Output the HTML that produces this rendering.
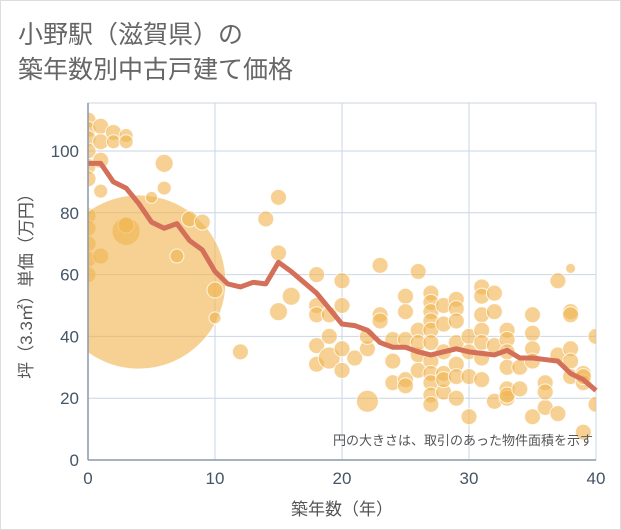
<!DOCTYPE html>
<html><head><meta charset="utf-8"><style>
body{margin:0;background:#fff}
svg{display:block;font-family:"Liberation Sans","Noto Sans CJK JP",sans-serif}
</style></head><body>
<svg id="c" width="621" height="530">
<rect x="0.5" y="0.5" width="620" height="529" fill="#fff" stroke="#ddd"/>
<text x="18" y="43" font-size="25" fill="#666">小野駅（滋賀県）の</text>
<text x="18" y="78" font-size="25" fill="#666">築年数別中古戸建て価格</text>
<g id="grid"></g>
<g id="bubbles"></g>
<g id="line"></g>
<g id="axes"></g>
<text x="593" y="445" font-size="13" fill="#555" text-anchor="end">円の大きさは、取引のあった物件面積を示す</text>
<text x="342" y="515" font-size="17" fill="#555" text-anchor="middle">築年数（年）</text>
<text transform="translate(32,282) rotate(-90)" font-size="17" fill="#555" text-anchor="middle">坪（3.3㎡）単価（万円）</text>
</svg>
<script>
const xTicks=[0,10,20,30,40];
const yTicks=[0,20,40,60,80,100];
const lineX=[0,1,2,3,4,5,6,7,8,9,10,11,12,13,14,15,16,17,18,19,20,21,22,23,24,25,26,27,28,29,30,31,32,33,34,35,36,37,38,39,40];
const lineY=[96,96,90,88,83,77,75,76.5,71,68,61,57,56,57.5,57,64,61,57.5,54,49,44,43.5,42,38,36.5,36.5,35,34,35,36,35,34.5,34,35.5,33,33,32.5,32,28,26,22.5];
const bubX=[0,0,0,0,0,0,0,0,0,0,0,1,1,1,1,1,2,2,3,3,3,3,4,5,6,6,7,8,9,10,10,12,14,15,15,15,16,18,18,18,18,18,19,19,19,20,20,20,20,21,22,22,22,23,23,23,24,24,24,25,25,25,25,25,26,26,26,26,26,27,27,27,27,27,27,27,27,27,27,27,28,28,28,28,28,28,29,29,29,29,29,29,29,30,30,30,30,31,31,31,31,31,31,31,32,32,32,32,33,33,33,33,33,33,33,34,34,35,35,35,35,35,36,36,36,37,37,37,38,38,38,38,38,38,39,39,39,39,40,40];
const bubY=[110,107,104,100,95,91,79,75,70,65,60,108,103,97,87,66,106,103,105,103,74,76,57.6,85,96,88,66,78,77,55,46,35,78,85,67,48,53,60,50,47,37,31,40,33,47,58,50,29,36,33,19,36,40,63,47,45,39,25,32,53,48,39,26,24,61,42,34,29,38,54,51,48,45,42,38,32,28,25,21,18,50,44,35,28,22,26,52,49,45,38,31,27,20,40,35,27,14,56,53,47,42,38,33,26,54,48,37,19,42,39,35,30,23,20,21,30,23,47,41,36,32,14,25,17,22,58,34,15,62,48,47,36,32,27,28,25,27,9,40,18];
const bubR=[
8,8,8,8,8,8,8,8,8,8,8,
8,8,8,7,8,
8,7,
7,7,14,8,
87,
6,
9,7,
7,8,8,
8,6,
8,8,
8,8,9,
9,
8,8,8,8,8,
8,11,8,
8,8,8,8,
8,
11,8,8,
8,8,8,
8,8,8,
8,8,8,8,8,
8,8,8,8,8,
8,8,8,8,8,8,8,8,8,8,8,
8,8,8,8,8,8,
8,8,8,8,8,8,8,
8,8,8,8,
8,8,8,8,8,8,8,
8,8,8,8,
8,8,8,8,8,8,8,
8,8,
8,8,8,8,8,
8,8,8,
8,8,8,
5,8,8,8,8,8,
8,8,8,8,
8,8];
const X0=88,X1=596,Y0=460,Y1=103;
const sx=v=>X0+(X1-X0)*v/40;
const sy=v=>Y0-(Y0-151)*v/100;
const NS="http://www.w3.org/2000/svg";
function mk(t,a,p){const e=document.createElementNS(NS,t);for(const k in a)e.setAttribute(k,a[k]);p.appendChild(e);return e;}
const grid=document.getElementById('grid'),axes=document.getElementById('axes');
const bg=mk('rect',{x:X0,y:Y1,width:X1-X0,height:Y0-Y1,fill:'#fff',stroke:'#ccd5df'},grid);


xTicks.forEach(v=>{
 const l=mk('line',{x1:sx(v),x2:sx(v),y1:Y1,y2:Y0,stroke:'#c9d6e3','stroke-width':1},grid);
 
 
 const t=mk('text',{x:sx(v),y:Y0+24,'font-size':17,fill:'#445566','text-anchor':'middle'},axes);
 t.textContent=v;
 
 
});
yTicks.forEach(v=>{
 const l=mk('line',{x1:X0,x2:X1,y1:sy(v),y2:sy(v),stroke:'#c9d6e3','stroke-width':1},grid);
 
 
 const t=mk('text',{x:X0-9,y:sy(v)+6,'font-size':17,fill:'#445566','text-anchor':'end'},axes);
 t.textContent=v;
 
 
});
const ax=mk('line',{x1:X0,x2:X1,y1:Y0,y2:Y0,stroke:'#8899aa','stroke-width':1.5},axes);


const ay=mk('line',{x1:X0,x2:X0,y1:Y1,y2:Y0,stroke:'#8899aa','stroke-width':1.5},axes);


const bb=document.getElementById('bubbles');
mk('clipPath',{id:'clip'},bb).appendChild(document.createElementNS(NS,'rect'));
const cr=bb.querySelector('clipPath rect');cr.setAttribute('x',X0);cr.setAttribute('y',Y1);cr.setAttribute('width',X1-X0);cr.setAttribute('height',Y0-Y1);
bb.setAttribute('clip-path','url(#clip)');
bubX.forEach((x,i)=>{
 const c=mk('circle',{cx:sx(x),cy:sy(bubY[i]),r:bubR[i]||8,fill:'rgba(240,180,80,0.62)',stroke:'rgba(255,255,255,0.8)','stroke-width':1},bb);
 
 
});
const p=mk('polyline',{points:lineX.map((x,i)=>sx(x)+','+sy(lineY[i])).join(' '),fill:'none',stroke:'#d4705a','stroke-width':5,'stroke-linejoin':'round'},document.getElementById('line'));


</script>
</body></html>
